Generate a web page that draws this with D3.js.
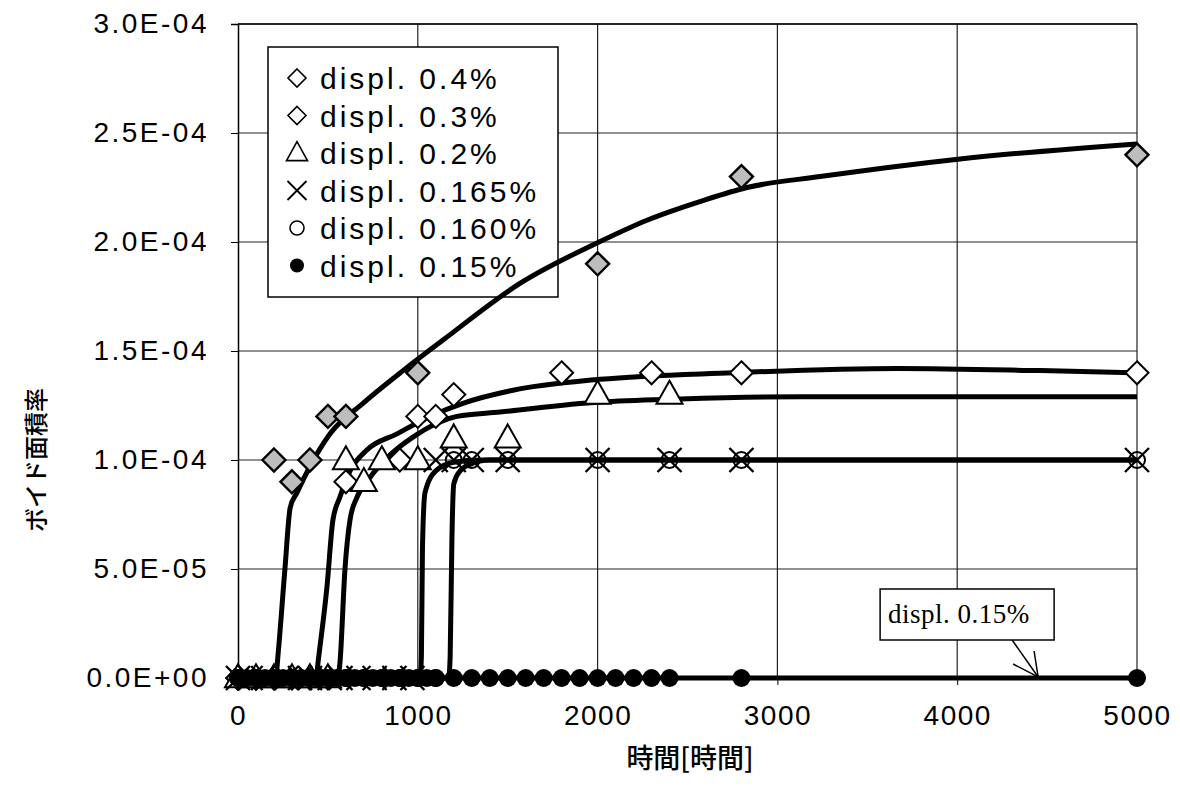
<!DOCTYPE html>
<html><head><meta charset="utf-8">
<script src="https://cdn.jsdelivr.net/npm/d3@7"></script>
<style>
html,body{margin:0;padding:0;background:#fff;}
svg{display:block;}
</style></head>
<body>
<svg id="chart" width="1180" height="786"></svg>
<script>
// ---------- data ----------
const xTicks = [0, 1000, 2000, 3000, 4000, 5000];
const yTicks = [0, 5e-5, 1e-4, 1.5e-4, 2e-4, 2.5e-4, 3e-4];
const yTickLabels = ["0.0E+00", "5.0E-05", "1.0E-04", "1.5E-04", "2.0E-04", "2.5E-04", "3.0E-04"];
const seriesNames = ["displ. 0.4%", "displ. 0.3%", "displ. 0.2%", "displ. 0.165%", "displ. 0.160%", "displ. 0.15%"];
const xTitle = "時間[時間]";
const yTitle = "ボイド面積率";
const noteText = "displ. 0.15%";

// measured points (time, void ratio)
const p04T = [0, 100, 200, 300, 400, 500, 600, 1000, 2000, 2800, 5000];
const p04V = [0, 0, 1.0e-4, 9.0e-5, 1.0e-4, 1.2e-4, 1.2e-4, 1.4e-4, 1.9e-4, 2.3e-4, 2.4e-4];
const p03T = [0, 100, 200, 300, 400, 500, 600, 900, 1000, 1100, 1200, 1800, 2300, 2800, 5000];
const p03V = [0, 0, 0, 0, 0, 0, 9.0e-5, 1.0e-4, 1.2e-4, 1.2e-4, 1.3e-4, 1.4e-4, 1.4e-4, 1.4e-4, 1.4e-4];
const p02T = [0, 100, 200, 300, 400, 500, 600, 700, 800, 1000, 1200, 1500, 2000, 2400];
const p02V = [0, 0, 0, 0, 0, 0, 1.0e-4, 9.0e-5, 1.0e-4, 1.0e-4, 1.1e-4, 1.1e-4, 1.3e-4, 1.3e-4];
const p0165T = [0, 70, 140, 270, 345, 400, 510, 570, 670, 760, 870, 970, 1100, 1200, 1300, 1500, 2000, 2400, 2800, 5000];
const p0165V = [0, 0, 0, 0, 0, 0, 0, 0, 0, 0, 0, 0, 1.0e-4, 1.0e-4, 1.0e-4, 1.0e-4, 1.0e-4, 1.0e-4, 1.0e-4, 1.0e-4];
const p0160T = [0, 100, 200, 300, 400, 500, 600, 700, 800, 900, 1000, 1100, 1200, 1300, 1500, 2000, 2400, 2800, 5000];
const p0160V = [0, 0, 0, 0, 0, 0, 0, 0, 0, 0, 0, 0, 1.0e-4, 1.0e-4, 1.0e-4, 1.0e-4, 1.0e-4, 1.0e-4, 1.0e-4];
const p015T = [0, 50, 100, 150, 200, 250, 300, 350, 400, 450, 500, 550, 600, 650, 700, 750, 800, 850, 900, 950, 1000, 1050, 1100, 1200, 1300, 1400, 1500, 1600, 1700, 1800, 1900, 2000, 2100, 2200, 2300, 2400, 2800, 5000];
const p015V = p015T.map(() => 0);

// fitted curves (time, void ratio)
const c04T = [0, 210, 222, 261, 290, 328, 400, 512, 695, 918, 1140, 1568, 2008, 2275, 2586, 2831, 3237, 4004, 5000];
const c04V = [0, 0, 1e-5, 5.0e-5, 7.8e-5, 8.5e-5, 9.7e-5, 1.12e-4, 1.26e-4, 1.41e-4, 1.55e-4, 1.81e-4, 2.0e-4, 2.1e-4, 2.19e-4, 2.25e-4, 2.3e-4, 2.38e-4, 2.45e-4];
const c03T = [0, 435, 445, 495, 528, 567, 623, 717, 884, 1068, 1251, 1530, 2013, 2753, 3671, 4461, 5000];
const c03V = [0, 0, 7e-6, 4.2e-5, 7.25e-5, 8.3e-5, 9.5e-5, 1.046e-4, 1.12e-4, 1.2e-4, 1.26e-4, 1.32e-4, 1.37e-4, 1.4e-4, 1.42e-4, 1.41e-4, 1.4e-4];
const c02T = [0, 555, 567, 595, 623, 662, 734, 829, 973, 1218, 1457, 2013, 2458, 3126, 5000];
const c02V = [0, 0, 7e-6, 5.0e-5, 7.25e-5, 8.3e-5, 9.2e-5, 1.01e-4, 1.105e-4, 1.2e-4, 1.22e-4, 1.266e-4, 1.28e-4, 1.29e-4, 1.29e-4];
const c0165T = [0, 1012, 1020, 1026, 1040, 1100, 1200, 1350, 5000];
const c0165V = [0, 0, 1e-5, 6.0e-5, 8.5e-5, 9.5e-5, 9.9e-5, 1.0e-4, 1.0e-4];
const c0160T = [0, 1172, 1180, 1190, 1200, 1235, 1290, 1400, 5000];
const c0160V = [0, 0, 1e-5, 6.5e-5, 8.9e-5, 9.5e-5, 9.8e-5, 1.0e-4, 1.0e-4];
const c015T = [0, 5000];
const c015V = [0, 0];
const noteTime = 4450;

// ---------- layout ----------
const svg = d3.select("#chart");
const L = 238, R = 1137, T = 24, B = 678;
const x = d3.scaleLinear().domain([0, 5000]).range([L, R]);
const y = d3.scaleLinear().domain([0, 3e-4]).range([B, T]);
const zip = (a, b) => a.map((t, i) => [t, b[i]]);

// gridlines
const g = svg.append("g");
g.selectAll(".vg").data(xTicks.slice(1)).join("line")
  .attr("x1", d => x(d)).attr("x2", d => x(d)).attr("y1", T).attr("y2", B)
  .attr("stroke", "#222").attr("stroke-width", 1.2);
g.selectAll(".hg").data(yTicks.slice(1)).join("line")
  .attr("x1", L).attr("x2", R).attr("y1", d => y(d)).attr("y2", d => y(d))
  .attr("stroke", "#222").attr("stroke-width", 1.2);

// axes
const fmtY = d => yTickLabels[yTicks.indexOf(d)];
const yAxis = svg.append("g").attr("transform", `translate(${L},0)`)
  .call(d3.axisLeft(y).tickValues(yTicks).tickFormat(fmtY).tickSize(7).tickPadding(22));
yAxis.select(".domain").attr("stroke", "#000").attr("stroke-width", 1.5);
yAxis.selectAll("text").attr("font-family", "Liberation Sans, Arial, sans-serif")
  .attr("font-size", 28).attr("letter-spacing", "2.5px").attr("fill", "#000");

const xAxis = svg.append("g").attr("transform", `translate(0,${B})`)
  .call(d3.axisBottom(x).tickValues(xTicks).tickFormat(d3.format("d")).tickSize(7).tickPadding(20));
xAxis.select(".domain").attr("stroke", "#000").attr("stroke-width", 1.5);
xAxis.selectAll("text").attr("font-family", "Liberation Sans, Arial, sans-serif")
  .attr("font-size", 28).attr("letter-spacing", "1.5px").attr("fill", "#000");

// top border
svg.append("line").attr("x1", L).attr("x2", R).attr("y1", T).attr("y2", T)
  .attr("stroke", "#000").attr("stroke-width", 1.5);

// titles
svg.append("text").attr("x", 690).attr("y", 768).attr("text-anchor", "middle")
  .attr("font-family", "Noto Sans CJK JP").attr("font-size", 27).attr("font-weight", 500)
  .text(xTitle);
svg.append("text").attr("transform", `translate(45,460) rotate(-90)`)
  .attr("text-anchor", "middle").attr("font-family", "Noto Sans CJK JP")
  .attr("font-size", 24).attr("font-weight", 500).text(yTitle);

// marker shapes
function diamond(s) { return `M0,${-s}L${s},0L0,${s}L${-s},0Z`; }
function tri(w, h) { return `M0,${-h * 0.6}L${w / 2},${h * 0.4}L${-w / 2},${h * 0.4}Z`; }
function cross(s) { return `M${-s},${-s}L${s},${s}M${s},${-s}L${-s},${s}`; }

// legend (drawn beneath the curves)
const lg = svg.append("g");
lg.append("rect").attr("x", 268).attr("y", 47).attr("width", 290).attr("height", 250)
  .attr("fill", "#fff").attr("stroke", "#000").attr("stroke-width", 1.5);
const legendSym = [
  s => s.append("path").attr("d", diamond(9)).attr("fill", "#fff").attr("stroke", "#000").attr("stroke-width", 1.6),
  s => s.append("path").attr("d", diamond(9)).attr("fill", "#fff").attr("stroke", "#000").attr("stroke-width", 1.6),
  s => s.append("path").attr("d", tri(21, 19)).attr("fill", "#fff").attr("stroke", "#000").attr("stroke-width", 1.6),
  s => s.append("path").attr("d", cross(9.5)).attr("stroke", "#000").attr("stroke-width", 1.8),
  s => s.append("circle").attr("r", 7).attr("fill", "none").attr("stroke", "#000").attr("stroke-width", 1.6),
  s => s.append("circle").attr("r", 7).attr("fill", "#000")
];
seriesNames.forEach((name, i) => {
  const cy = 78 + i * 37.5;
  legendSym[i](lg.append("g").attr("transform", `translate(297,${cy})`));
  lg.append("text").attr("x", 320).attr("y", cy + 11).attr("font-family", "Liberation Sans, Arial, sans-serif")
    .attr("font-size", 30).attr("letter-spacing", "3px").text(name);
});

// curves
const line = d3.line().x(d => x(d[0])).y(d => y(d[1])).curve(d3.curveMonotoneX);
const curves = [zip(c015T, c015V), zip(c04T, c04V), zip(c03T, c03V), zip(c02T, c02V), zip(c0165T, c0165V), zip(c0160T, c0160V)];
svg.append("g").selectAll("path").data(curves).join("path")
  .attr("d", line).attr("fill", "none").attr("stroke", "#000").attr("stroke-width", 5)
  .attr("stroke-linejoin", "round");

const mk = svg.append("g");
function drawPts(T_, V_, fn) {
  zip(T_, V_).forEach(p => fn(mk.append("g").attr("transform", `translate(${x(p[0])},${y(p[1])})`)));
}
// 0.4% gray diamonds
drawPts(p04T, p04V, s => s.append("path").attr("d", diamond(11.5)).attr("fill", "#bdbdbd").attr("stroke", "#000").attr("stroke-width", 2.4));
// 0.3% white diamonds
drawPts(p03T, p03V, s => s.append("path").attr("d", diamond(11.5)).attr("fill", "#fff").attr("stroke", "#000").attr("stroke-width", 2));
// 0.2% triangles
drawPts(p02T, p02V, s => s.append("path").attr("d", tri(26, 23)).attr("fill", "#fff").attr("stroke", "#000").attr("stroke-width", 2));
// 0.160% open circles
drawPts(p0160T, p0160V, s => s.append("circle").attr("r", 8).attr("fill", "none").attr("stroke", "#000").attr("stroke-width", 2));
// 0.165% crosses
drawPts(p0165T, p0165V, s => s.append("path").attr("d", cross(12)).attr("stroke", "#000").attr("stroke-width", 2.4));
// 0.15% black dots (on top)
drawPts(p015T, p015V, s => s.append("circle").attr("r", 9).attr("fill", "#000"));

// annotation
const tipX = x(noteTime), tipY = y(0) - 1;
const bx = tipX - 158, by = tipY - 88;
svg.append("line").attr("x1", tipX - 26).attr("y1", by + 51).attr("x2", tipX).attr("y2", tipY)
  .attr("stroke", "#000").attr("stroke-width", 1.5);
svg.append("path").attr("d", `M${tipX - 25},${tipY - 13}L${tipX},${tipY}L${tipX - 4},${tipY - 26}`)
  .attr("fill", "none").attr("stroke", "#000").attr("stroke-width", 1.5);
svg.append("rect").attr("x", bx).attr("y", by).attr("width", 174).attr("height", 51)
  .attr("fill", "#fff").attr("stroke", "#000").attr("stroke-width", 1.5);
svg.append("text").attr("x", bx + 8).attr("y", by + 34).attr("font-family", "Liberation Serif, Times New Roman, serif")
  .attr("font-size", 27).attr("letter-spacing", "0.5px").text(noteText);
</script>
</body></html>
